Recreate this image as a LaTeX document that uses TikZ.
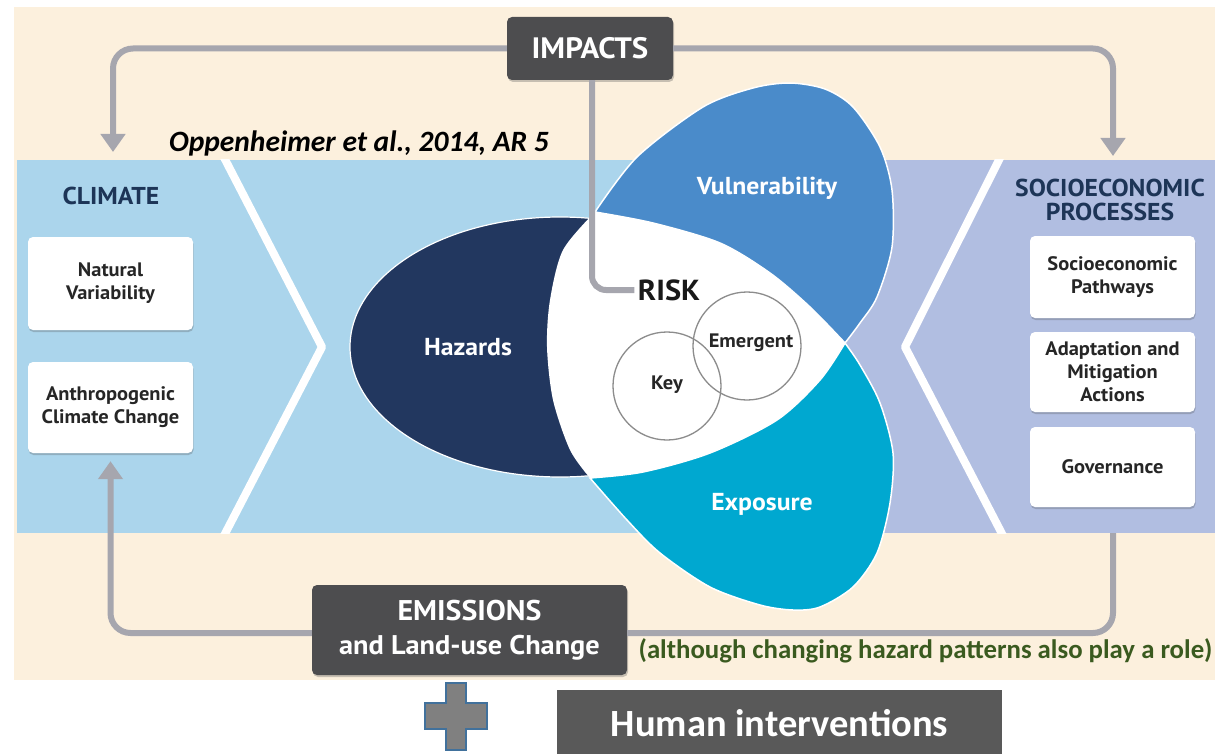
\documentclass[tikz,border=0pt]{standalone}
\usepackage{fontspec}
\setmainfont{Carlito}
\newfontfamily\condfont[FakeStretch=1.05]{PT Sans}
\usetikzlibrary{arrows.meta,shadows}

\definecolor{beige}{HTML}{FCF0DD}
\definecolor{skyband}{HTML}{ABD5EC}
\definecolor{lavender}{HTML}{B1BEE1}
\definecolor{navy}{HTML}{22375F}
\definecolor{vulblue}{HTML}{4A8BCA}
\definecolor{expcyan}{HTML}{00A8D0}
\definecolor{linegray}{HTML}{A6A6AE}
\definecolor{darkfill}{HTML}{4D4D4F}
\definecolor{headnavy}{HTML}{1D3557}
\definecolor{boxtext}{HTML}{262626}
\definecolor{notegreen}{HTML}{3A5A1F}
\definecolor{humanfill}{HTML}{595959}
\definecolor{crossfill}{HTML}{808080}
\definecolor{crossedge}{HTML}{41719C}
\definecolor{ringgray}{HTML}{8C8C8C}

\tikzset{
  whitebox/.style={fill=white, rounded corners=5pt, minimum width=165pt,
    align=center, text=boxtext, inner sep=2pt,
    font=\condfont\bfseries\fontsize{19.5}{23}\selectfont,
    drop shadow={shadow xshift=0.5pt, shadow yshift=-2pt, opacity=0.28, fill=black!70}},
  darkbox/.style={fill=darkfill, rounded corners=5pt, text=white, align=center,
    drop shadow={shadow xshift=1pt, shadow yshift=-2pt, opacity=0.3, fill=black!70}},
  flow/.style={draw=linegray, line width=6pt, rounded corners=20pt},
  flowtip/.style={-{Triangle[width=24pt,length=18pt]}},
  petallabel/.style={text=white, font=\condfont\bfseries\fontsize{24.5}{28}\selectfont},
  heading/.style={text=headnavy, align=center, font=\condfont\bfseries\fontsize{24.4}{24.5}\selectfont},
  ring/.style={draw=ringgray, line width=1.3pt},
  chevron/.style={draw=white, line width=8pt, line join=round},
  petaledge/.style={draw=white, line width=1.5pt}
}

\begin{document}
\begin{tikzpicture}[x=1pt, y=-1pt]
\useasboundingbox (0,0) rectangle (1215,754);
\fill[white] (0,0) rectangle (1215,754);

% background panels
\fill[beige] (14,7) rectangle (1215,680);
\fill[skyband] (17,160) rectangle (1215,533);
\fill[lavender] (760,160) rectangle (1215,533);

% white chevrons in the band
\begin{scope}
  \clip (17,160) rectangle (1215,533);
  \draw[chevron] (215,140) -- (322,347) -- (215,553);
  \draw[chevron] (1009,140) -- (905,347) -- (1012,553);
\end{scope}

% hazards
\filldraw[fill=navy, petaledge, line width=1.2pt] (560,347) ellipse [x radius=210pt, y radius=130pt];

% risk region (white)
\fill[white] plot[smooth] coordinates {(595,212) (563,250) (550,300) (547,347) (553,400) (570,450) (590,478)}
  -- plot[smooth] coordinates {(590,478) (643,472) (710,453) (777,420) (820,380) (845,343)}
  -- plot[smooth] coordinates {(845,343) (810,307) (770,273) (720,243) (653,223) (595,212)} -- cycle;

% vulnerability petal
\filldraw[fill=vulblue, petaledge] plot[smooth] coordinates {(595,212) (637,157) (703,107) (753,88) (790,83) (825,89) (853,107) (880,147) (892,190) (892,247) (877,297) (860,323) (845,343)}
  -- plot[smooth] coordinates {(845,343) (810,307) (770,273) (720,243) (653,223) (595,212)} -- cycle;

% exposure petal
\filldraw[fill=expcyan, petaledge] plot[smooth] coordinates {(590,478) (627,520) (660,553) (710,587) (760,605) (793,610) (820,607) (853,587) (877,553) (890,503) (893,453) (880,403) (860,365) (845,343)}
  -- plot[smooth] coordinates {(845,343) (820,380) (777,420) (710,453) (643,472) (590,478)} -- cycle;

% key and emergent risk rings
\draw[ring] (667,386) circle [radius=54pt];
\draw[ring] (747,346) circle [radius=54pt];

\node[petallabel] (hazards) at (468,347) {Hazards};
\node[petallabel] (vulnerability) at (767,188) {Vulnerability};
\node[petallabel] (exposure) at (762,504) {Exposure};
\node[text=black!90, font=\condfont\bfseries\fontsize{29}{32}\selectfont] (risk) at (669,290) {RISK};
\node[text=boxtext, font=\condfont\bfseries\fontsize{19.5}{22}\selectfont] (emergent) at (751,343) {Emergent};
\node[text=boxtext, font=\condfont\bfseries\fontsize{19.5}{22}\selectfont] (key) at (667,385) {Key};

% climate side
\node[heading] (climate) at (111,196) {CLIMATE};
\node[whitebox, minimum height=93pt] (natural) at (110.5,283.5) {Natural\\Variability};
\node[whitebox, minimum height=91pt] (anthro) at (110.5,407.5) {Anthropogenic\\Climate Change};

% socioeconomic side
\node[heading] (socio) at (1110,200) {SOCIOECONOMIC\\PROCESSES};
\node[whitebox, minimum height=82pt] (pathways) at (1112.5,277) {Socioeconomic\\Pathways};
\node[whitebox, minimum height=80pt] (adapt) at (1112.5,372) {Adaptation and\\Mitigation\\Actions};
\node[whitebox, minimum height=80pt] (gov) at (1112.5,467) {Governance};

% dark boxes
\node[darkbox, minimum width=166pt, minimum height=63pt, font=\condfont\bfseries\fontsize{29.5}{32}\selectfont] (impacts) at (590,48.5) {IMPACTS};
\node[darkbox, minimum width=315pt, minimum height=90pt, font=\condfont\bfseries\fontsize{28.5}{34}\selectfont] (emis) at (469.5,630)
  {EMISSIONS\\{\fontsize{27}{34}\selectfont and Land-use Change}};

% free ends of the feedback arrows
\coordinate (climtip) at (113,152);
\coordinate (soctip) at (1113,156);
\coordinate (socbase) at (1113,533);

% feedback loops
\draw[flow, flowtip] (impacts.west) -| (climtip);
\draw[flow, flowtip] (impacts.east) -| (soctip);
\draw[flow, flowtip, shorten >=8pt] ([yshift=-3pt]emis.west) -| (anthro.south);
\draw[flow] ([yshift=-3pt]emis.east) -| (socbase);
\draw[flow, rounded corners=14pt] ([xshift=2pt]impacts.south) |- (risk.west);

% annotations
\node[font=\bfseries\itshape\fontsize{29.5}{34}\selectfont, text=black] (cite) at (359,143) {Oppenheimer et al., 2014, AR 5};
\node[font=\bfseries\fontsize{26.8}{30}\selectfont, text=notegreen] (note) at (925.5,651) {(although changing hazard patterns also play a role)};

% plus sign and human interventions
\filldraw[fill=crossfill, draw=crossedge, line width=1.5pt]
  (446,683) -- (466,683) -- (466,703) -- (487,703) -- (487,729) -- (466,729)
  -- (466,750) -- (446,750) -- (446,729) -- (425,729) -- (425,703) -- (446,703) -- cycle;
\node[fill=humanfill, minimum width=445pt, minimum height=66pt, text=white,
  font=\bfseries\fontsize{38.5}{44}\selectfont] (human) at (779.5,723) {Human interventions};
\end{tikzpicture}
\end{document}
